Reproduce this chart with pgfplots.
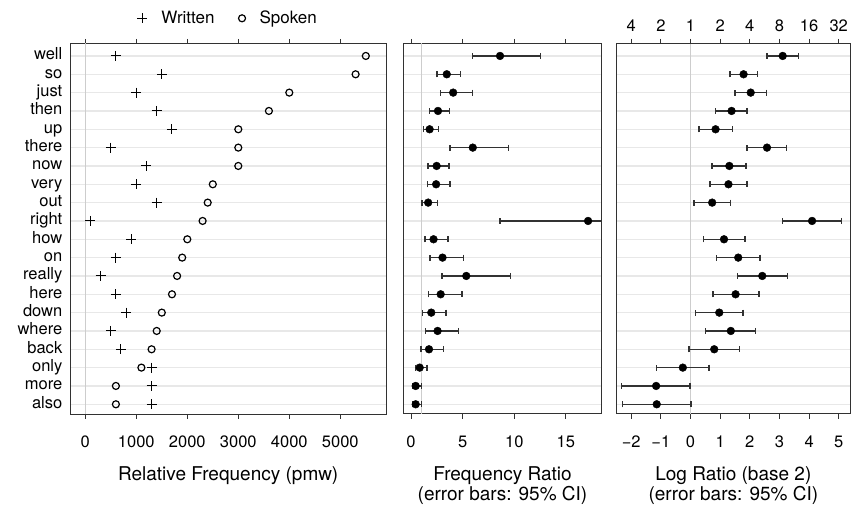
\documentclass[border=0pt]{standalone}
\usepackage{fontspec}
\setmainfont{TeX Gyre Heros}
\usepackage{pgfplots}
\usepackage{pgfplotstable}
\pgfplotsset{compat=1.18}

\pgfplotstableread{
y  word   written spoken ratio rlo   rhi   lr     lrlo   lrhi
20 well   600     5500   8.62  5.97  12.54 3.11   2.58   3.65
19 so     1500    5300   3.46  2.53  4.79  1.79   1.34   2.26
18 just   1000    4000   4.08  2.83  5.94  2.03   1.50   2.57
17 then   1400    3600   2.61  1.80  3.73  1.385  0.845  1.90
16 up     1700    3000   1.80  1.21  2.66  0.845  0.28   1.41
15 there  500     3000   5.98  3.76  9.45  2.58   1.91   3.24
14 now    1200    3000   2.48  1.66  3.66  1.31   0.73   1.87
13 very   1000    2500   2.43  1.57  3.76  1.28   0.65   1.91
12 out    1400    2400   1.66  1.08  2.55  0.73   0.11   1.35
11 right  100     2300   17.15 8.63  34.06 4.10   3.11   5.09
10 how    900     2000   2.18  1.36  3.58  1.13   0.44   1.84
9  on     600     1900   3.05  1.83  5.10  1.61   0.87   2.35
8  really 300     1800   5.35  3.01  9.65  2.42   1.59   3.27
7  here   600     1700   2.87  1.69  4.96  1.52   0.755  2.31
6  down   800     1500   1.96  1.125 3.41  0.97   0.17   1.77
5  where  500     1400   2.57  1.42  4.59  1.36   0.51   2.20
4  back   700     1300   1.74  0.96  3.15  0.80   -0.056 1.655
3  only   1300    1100   0.835 0.45  1.54  -0.26  -1.14  0.62
2  more   1300    600    0.45  0.20  0.99  -1.16  -2.32  -0.02
1  also   1300    600    0.45  0.20  1.01  -1.14  -2.30  0.01
}\data

\definecolor{gridc}{RGB}{232,232,232}
\definecolor{refc}{RGB}{205,205,205}
\definecolor{framec}{RGB}{50,50,50}

\tikzset{refline/.style={refc, line width=1.4bp}}

\pgfplotsset{
  common/.style={
    scale only axis, anchor=south west,
    height=370.7bp,
    ymin=0.47, ymax=20.69,
    ytick={1,...,20},
    ymajorgrids, major grid style={color=gridc, line width=1.3bp},
    tick align=outside, major tick length=4.5bp,
    xtick style={framec, line width=0.9bp},
    ytick style={draw=none},
    axis line style={framec, line width=1bp},
    tick label style={font=\fontsize{16.5bp}{19bp}\selectfont},
    typeset ticklabels with strut,
    xticklabel style={yshift=-12bp},
    /pgf/number format/assume math mode=true,
    /pgf/number format/1000 sep={},
    xlabel style={font=\fontsize{19bp}{20bp}\selectfont, align=center,
      at={(axis description cs:0.5,0)}, anchor=north, yshift=-49bp},
    clip=true,
  },
  ebars/.style={only marks, mark=*, mark size=3.9bp, black,
    error bars/.cd, x dir=both, x explicit,
    error mark=|,
    error bar style={line width=1.5bp, framec},
    error mark options={line width=1.5bp, framec, mark size=3bp}},
}

\begin{document}
\begin{tikzpicture}
\path[use as bounding box] (0bp,0bp) rectangle (859bp,506bp);

% Panel 1
\begin{axis}[common, at={(70.3bp,92bp)}, width=315.7bp,
  xmin=-294, xmax=5896, xtick={0,1000,2000,3000,4000,5000},
  yticklabels={also,more,only,back,where,down,here,really,on,how,right,out,very,now,there,up,then,just,so,well},
  xlabel={Relative Frequency (pmw)},
  legend columns=2,
  legend style={at={(0.5,1)}, anchor=center, yshift=25bp, draw=none, fill=none,
    font=\fontsize{17bp}{19bp}\selectfont,
    /tikz/every odd column/.append style={column sep=12bp},
    /tikz/every even column/.append style={column sep=22bp}},
  ]
  \draw[refline] (axis cs:0,0.47) -- (axis cs:0,20.69);
  \addplot[only marks, mark=+, mark size=5bp, line width=1bp, black] table[x=written, y=y]{\data};
  \addlegendentry{Written}
  \addplot[only marks, mark=o, mark size=3.5bp, line width=1.2bp, black] table[x=spoken, y=y]{\data};
  \addlegendentry{Spoken}
\end{axis}

% Panel 2
\begin{axis}[common, at={(403.3bp,92bp)}, width=198.4bp,
  xmin=-0.75, xmax=18.47, xtick={0,5,10,15}, yticklabels={},
  xlabel={Frequency Ratio\\(error bars: 95\% CI)},
  ]
  \draw[refline] (axis cs:1,0.47) -- (axis cs:1,20.69);
  \addplot[ebars]
    table[x=ratio, y=y,
      x error plus expr=\thisrow{rhi}-\thisrow{ratio},
      x error minus expr=\thisrow{ratio}-\thisrow{rlo}]{\data};
\end{axis}

% Panel 3
\begin{axis}[common, at={(616.7bp,92bp)}, width=233.3bp,
  xmin=-2.49, xmax=5.38, xtick={-2,-1,0,1,2,3,4,5},
  xticklabels={−2,−1,0,1,2,3,4,5}, yticklabels={},
  xlabel={Log Ratio (base 2)\\(error bars: 95\% CI)},
  ]
  \draw[refline] (axis cs:0,0.47) -- (axis cs:0,20.69);
  \addplot[ebars]
    table[x=lr, y=y,
      x error plus expr=\thisrow{lrhi}-\thisrow{lr},
      x error minus expr=\thisrow{lr}-\thisrow{lrlo}]{\data};
\end{axis}
\begin{axis}[scale only axis, anchor=south west, at={(616.7bp,92bp)},
  width=233.3bp, height=370.7bp,
  xmin=-2.49, xmax=5.38, ymin=0.47, ymax=20.69,
  axis x line*=top, axis y line=none,
  tick align=outside, major tick length=4.5bp,
  xtick style={framec, line width=0.9bp},
  axis line style={framec, line width=1bp},
  xtick={-2,-1,0,1,2,3,4,5},
  xticklabels={4,2,1,2,4,8,16,32},
  xticklabel style={yshift=4bp},
  tick label style={font=\fontsize{16.5bp}{19bp}\selectfont},
  ]
\end{axis}
\end{tikzpicture}
\end{document}
